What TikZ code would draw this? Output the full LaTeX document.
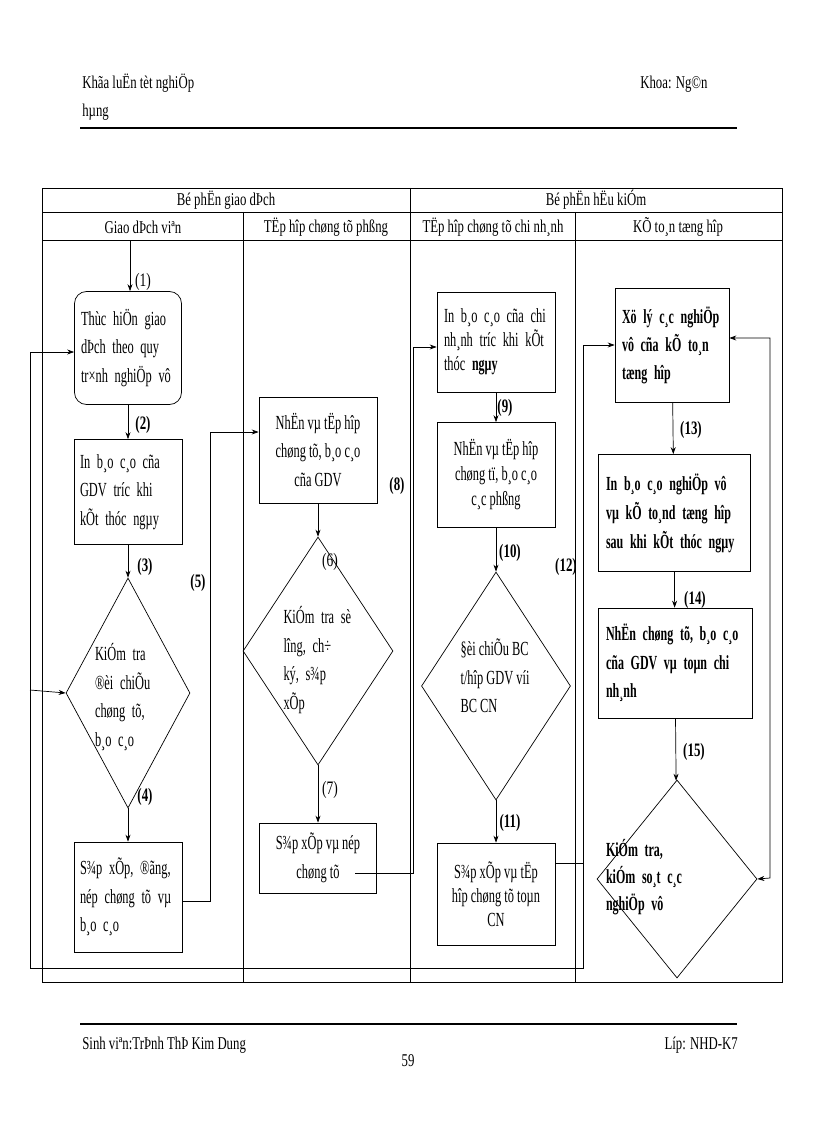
\documentclass[tikz,border=0pt]{standalone}
\usepackage{fontspec}
\setmainfont{Liberation Serif}[FakeStretch=0.62,BoldFeatures={FakeStretch=0.6}]
\newfontfamily\hdfont{Liberation Serif}[FakeStretch=0.71,BoldFeatures={FakeStretch=0.68}]
\usetikzlibrary{arrows.meta,shapes.geometric}
\newcommand\spread[1]{\makebox[\hsize][s]{#1}}

\begin{document}
\begin{tikzpicture}[x=1pt,y=-1pt,line width=0.7pt,
  >={Stealth[length=7pt,width=5pt]},
  txt/.style={font=\fontsize{20}{28.5}\selectfont,inner sep=0pt},
  hd/.style={font=\hdfont\fontsize{18}{20}\selectfont,inner sep=0pt},
  box/.style={draw,txt,inner sep=6pt},
  dia/.style={draw,diamond,inner sep=0pt},
  lbl/.style={font=\hdfont\fontsize{19}{20}\selectfont,inner sep=0pt},
  blbl/.style={font=\hdfont\bfseries\fontsize{19}{20}\selectfont,inner sep=0pt}]
\useasboundingbox (0,0) rectangle (816,1123);

% page header and footer
\node[hd,anchor=base west] (ttl) at (82,89) {Khãa luËn tèt nghiÖp};
\node[hd,anchor=base west] (ttl2) at (82,117) {hµng};
\node[hd,anchor=base west] (fac) at (640,89) {Khoa: Ng©n};
\draw[line width=1.6pt] (80,128)--(737,128);
\draw[line width=1.6pt] (80,1024)--(737,1024);
\node[hd,anchor=base west] (stu) at (82,1049) {Sinh viªn:TrÞnh ThÞ Kim Dung};
\node[hd,anchor=base east] (cls) at (738,1049) {Líp: NHD-K7};
\node[hd,anchor=base] (pg) at (408,1066) {59};

% table frame
\draw (42,188) rectangle (782,982);
\draw (42,212)--(782,212);
\draw (42,240)--(782,240);
\draw (410,188)--(410,982);
\draw (243,212)--(243,982);
\draw (575,212)--(575,982);
\node[hd] (h1) at (226,200) {Bé phËn giao dÞch};
\node[hd] (h2) at (596,200) {Bé phËn hËu kiÓm};
\node[hd] (s1) at (143,227) {Giao dÞch viªn};
\node[hd] (s2) at (326,227) {TËp hîp chøng tõ phßng};
\node[hd] (s3) at (493,227) {TËp hîp chøng tõ chi nh¸nh};
\node[hd] (s4) at (678,227) {KÕ to¸n tæng hîp};

% giao dich vien
\node[box,rounded corners=12pt,minimum width=107,minimum height=113,text width=94] (b1) at (128,348)
  {\spread{Thùc hiÖn giao}\\\spread{dÞch theo quy}\\\spread{tr×nh nghiÖp vô}};
\node[box,minimum width=108,minimum height=105,text width=96] (b2) at (128,492)
  {\spread{In b¸o c¸o cña}\\\spread{GDV tr­íc khi}\\kÕt thóc ngµy};
\node[dia,minimum width=124,minimum height=230] (d3) at (128,693) {};
\node[txt,text width=60] (t3) at (125,697)
  {\spread{KiÓm tra}\\\spread{®èi chiÕu}\\\spread{chøng tõ,}\\b¸o c¸o};
\node[box,minimum width=108,minimum height=110,text width=96] (b4) at (128,897)
  {\spread{S¾p xÕp, ®ãng,}\\\spread{nép chøng tõ vµ}\\b¸o c¸o};

% tap hop chung tu phong
\node[box,align=center,minimum width=118,minimum height=106] (b5) at (318,450)
  {NhËn vµ tËp hîp\\chøng tõ, b¸o c¸o\\cña GDV};
\node[dia,minimum width=150,minimum height=228] (d6) at (318,651) {};
\node[txt,text width=69] (t6) at (318,660)
  {\spread{KiÓm tra sè}\\\spread{l­îng, ch÷}\\\spread{ký, s¾p}\\xÕp};
\node[box,align=center,minimum width=117,minimum height=70] (b7) at (318,858)
  {S¾p xÕp vµ nép\\chøng tõ};

% tap hop chung tu chi nhanh
\node[box,minimum width=118,minimum height=100,text width=104,
  font=\fontsize{20}{24}\selectfont] (b8) at (496,342)
  {\spread{In b¸o c¸o cña chi}\\\spread{nh¸nh tr­íc khi kÕt}\\thóc \textbf{ngµy}};
\node[box,align=center,minimum width=118,minimum height=105,
  font=\fontsize{20}{25}\selectfont] (b9) at (496,475)
  {NhËn vµ tËp hîp\\chøng tï, b¸o c¸o\\c¸c phßng};
\node[dia,minimum width=149,minimum height=228] (d10) at (496,686) {};
\node[txt,align=left] (t10) at (495,676) {§èi chiÕu BC\\t/hîp GDV víi\\BC CN};
\node[box,align=center,minimum width=118,minimum height=102,
  font=\fontsize{20}{24}\selectfont] (b11) at (496,894)
  {S¾p xÕp vµ tËp\\hîp chøng tõ toµn\\CN};

% ke toan tong hop
\node[box,minimum width=114,minimum height=114,text width=100,
  font=\bfseries\fontsize{20}{28}\selectfont] (b12) at (672,345)
  {\spread{Xö lý c¸c nghiÖp}\\\spread{vô cña kÕ to¸n}\\tæng hîp};
\node[box,minimum width=152,minimum height=117,text width=136,
  font=\bfseries\fontsize{20}{29}\selectfont] (b13) at (674,513)
  {\spread{In b¸o c¸o nghiÖp vô}\\\spread{vµ kÕ to¸nd tæng hîp}\\\spread{sau khi kÕt thóc ngµy}};
\node[box,minimum width=154,minimum height=110,text width=138,
  font=\bfseries\fontsize{20}{28.5}\selectfont] (b14) at (675,663)
  {\spread{NhËn chøng tõ, b¸o c¸o}\\\spread{cña GDV vµ toµn chi}\\nh¸nh};
\node[dia,minimum width=160,minimum height=198] (d15) at (677,879) {};
\node[txt,text width=132,font=\bfseries\fontsize{20}{27}\selectfont] (t15) at (672,877)
  {\spread{KiÓm tra,}\\\spread{kiÓm so¸t c¸c}\\nghiÖp vô};

% connectors
\coordinate (in1) at (130,240);
\draw[->] (in1) -- (b1.north -| in1);
\draw[->] (b1) -- (b2);
\draw[->] (b2) -- (d3);
\draw[->] (d3) -- (b4);
\draw[->] (b5) -- (d6);
\draw[->] (d6) -- (b7);
\draw[->] (b8) -- (b9);
\draw[->] (b9) -- (d10);
\draw[->] (d10) -- (b11);
\draw[->] (b12) -- (b13);
\draw[->] (b13) -- (b14);
\draw[->] (b14) -- (d15);

\coordinate (c5) at (210,432);
\draw[->] (b4.east |- 0,901) -| (c5) -- (b5.west |- c5);
\coordinate (s7) at (355,873);
\coordinate (c8) at (413,347);
\draw[->] (s7) -| (c8) -- (b8.west |- c8);
\coordinate (c12) at (583,345);
\draw[->] (b11.east |- 0,863) -| (c12) -- (b12.west |- c12);

% return loops
\coordinate (bl) at (30,968);
\draw (c12) |- (bl) -- (30,352);
\draw[->] (30,352) -- (b1.west |- 0,352);
\draw[->] (30,690) -- (d3.west);
\coordinate (r1) at (770,338);
\coordinate (r2) at (770,878);
\draw[<->] (b12.east |- r1) -- (r1) -- (r2) -- (d15.east);

% step numbers
\node[lbl] (n1) at (143,282) {(1)};
\node[blbl] (n2) at (143,425) {(2)};
\node[blbl] (n3) at (145,567) {(3)};
\node[blbl] (n4) at (145,797) {(4)};
\node[blbl] (n5) at (198,583) {(5)};
\node[lbl] (n6) at (330,562) {(6)};
\node[lbl] (n7) at (330,790) {(7)};
\node[blbl] (n8) at (397,486) {(8)};
\node[blbl] (n9) at (505,408) {(9)};
\node[blbl] (n10) at (510,553) {(10)};
\node[blbl] (n11) at (510,823) {(11)};
\node[blbl] (n12) at (566,567) {(12)};
\node[blbl] (n13) at (691,430) {(13)};
\node[blbl] (n14) at (695,600) {(14)};
\node[blbl] (n15) at (694,752) {(15)};
\end{tikzpicture}
\end{document}
